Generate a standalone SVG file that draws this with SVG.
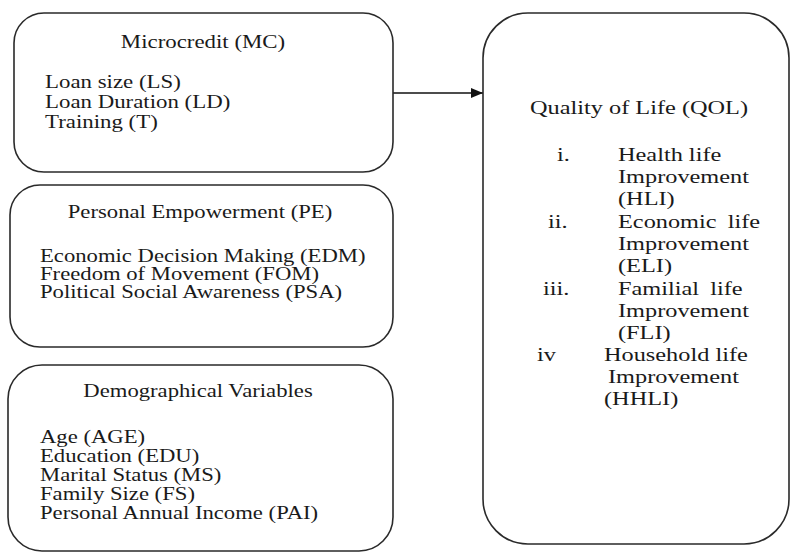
<svg xmlns="http://www.w3.org/2000/svg" width="791" height="552" viewBox="0 0 791 552">
<style>
.box{fill:#fff;stroke:#2a2a2a;stroke-width:1.6}
text{font-family:"Liberation Serif","Times New Roman",serif;fill:#1a1a1a}
.l{font-size:18px}
.r{font-size:19px}
.c{text-anchor:middle}
.conn{stroke:#111;stroke-width:1.6;fill:none}
</style>
<defs>
<marker id="ah" viewBox="0 0 12 10" refX="12" refY="5" markerWidth="12" markerHeight="10" markerUnits="userSpaceOnUse" orient="auto">
<path d="M0,0 L12,5 L0,10 Z" fill="#111"/>
</marker>
</defs>
<rect width="791" height="552" fill="#fff"/>
<g id="connectors">
<line class="conn" x1="393" y1="93" x2="483" y2="93" marker-end="url(#ah)"/>
</g>
<g id="mc">
<rect class="box" x="14" y="13" width="379" height="159" rx="30"/>
<text class="l c" transform="translate(203 48) scale(1.27 1)">Microcredit (MC)</text>
<text class="l" transform="translate(45 88) scale(1.27 1)">Loan size (LS)</text>
<text class="l" transform="translate(45 108) scale(1.27 1)">Loan Duration (LD)</text>
<text class="l" transform="translate(45 128) scale(1.27 1)">Training (T)</text>
</g>
<g id="pe">
<rect class="box" x="10" y="185" width="383" height="162" rx="30"/>
<text class="l c" transform="translate(200 218) scale(1.26 1)">Personal Empowerment (PE)</text>
<text class="l" transform="translate(40 262) scale(1.26 1)">Economic Decision Making (EDM)</text>
<text class="l" transform="translate(40 280) scale(1.26 1)">Freedom of Movement (FOM)</text>
<text class="l" transform="translate(40 298) scale(1.26 1)">Political Social Awareness (PSA)</text>
</g>
<g id="dv">
<rect class="box" x="8" y="365" width="385" height="186" rx="34"/>
<text class="l c" transform="translate(198 397) scale(1.26 1)">Demographical Variables</text>
<text class="l" transform="translate(40 443) scale(1.26 1)">Age (AGE)</text>
<text class="l" transform="translate(40 462) scale(1.26 1)">Education (EDU)</text>
<text class="l" transform="translate(40 481) scale(1.26 1)">Marital Status (MS)</text>
<text class="l" transform="translate(40 500) scale(1.26 1)">Family Size (FS)</text>
<text class="l" transform="translate(40 519) scale(1.26 1)">Personal Annual Income (PAI)</text>
</g>
<g id="qol">
<rect class="box" x="483" y="13" width="306" height="531" rx="45"/>
<text class="r" transform="translate(530 114) scale(1.28 1)">Quality of Life (QOL)</text>
<text class="r" transform="translate(557 161) scale(1.28 1)">i.</text>
<text class="r" transform="translate(618 161) scale(1.28 1)">Health life</text>
<text class="r" transform="translate(618 183) scale(1.28 1)">Improvement</text>
<text class="r" transform="translate(618 205) scale(1.28 1)">(HLI)</text>
<text class="r" transform="translate(548 228) scale(1.28 1)">ii.</text>
<text class="r" transform="translate(618 228) scale(1.28 1)" word-spacing="4">Economic life</text>
<text class="r" transform="translate(618 250) scale(1.28 1)">Improvement</text>
<text class="r" transform="translate(618 272) scale(1.28 1)">(ELI)</text>
<text class="r" transform="translate(543 295) scale(1.28 1)">iii.</text>
<text class="r" transform="translate(618 295) scale(1.28 1)" word-spacing="4">Familial life</text>
<text class="r" transform="translate(618 317) scale(1.28 1)">Improvement</text>
<text class="r" transform="translate(618 339) scale(1.28 1)">(FLI)</text>
<text class="r" transform="translate(537 361) scale(1.28 1)">iv</text>
<text class="r" transform="translate(604 361) scale(1.28 1)">Household life</text>
<text class="r" transform="translate(608 383) scale(1.28 1)">Improvement</text>
<text class="r" transform="translate(604 405) scale(1.28 1)">(HHLI)</text>
</g>
</svg>
